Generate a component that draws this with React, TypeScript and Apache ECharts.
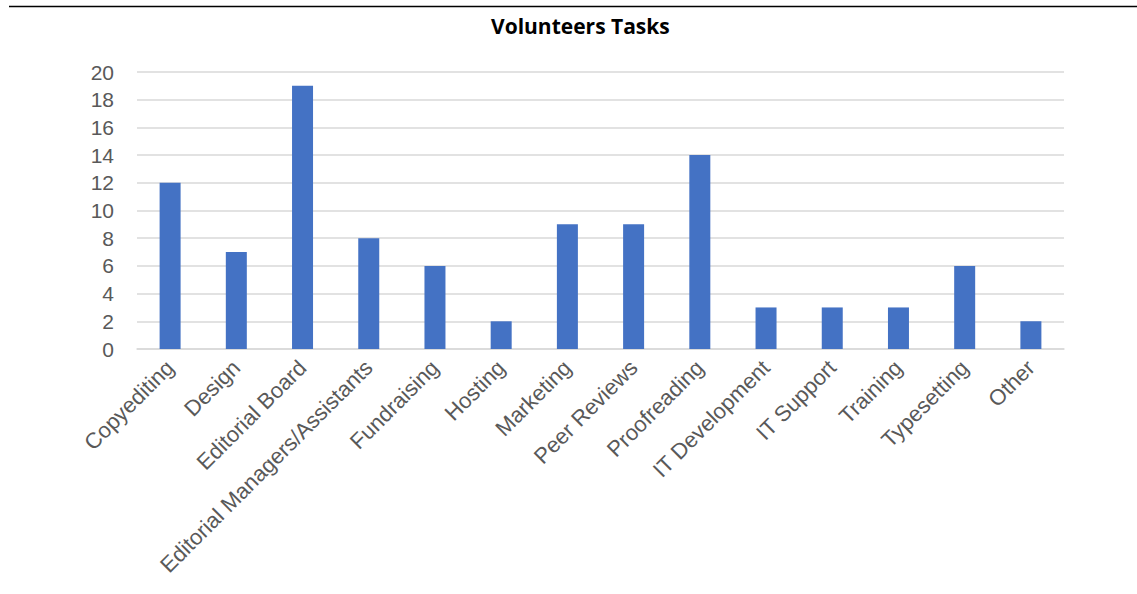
import React, { useEffect, useRef } from "react";
import * as echarts from "echarts";

const categories = [
  "Copyediting",
  "Design",
  "Editorial Board",
  "Editorial Managers/Assistants",
  "Fundraising",
  "Hosting",
  "Marketing",
  "Peer Reviews",
  "Proofreading",
  "IT Development",
  "IT Support",
  "Training",
  "Typesetting",
  "Other",
];
const counts = [12, 7, 19, 8, 6, 2, 9, 9, 14, 3, 3, 3, 6, 2];
const titleText = "Volunteers Tasks";

export default function App() {
  const ref = useRef<HTMLDivElement>(null);
  useEffect(() => {
    document.body.style.margin = "0";
    const chart = echarts.init(ref.current!, null, { renderer: "svg" });
    chart.setOption({
      animation: false,
      backgroundColor: "#ffffff",
      title: {
        text: titleText,
        left: 486,
        top: 10,
        textStyle: {
          fontFamily: "Open Sans",
          fontWeight: "bold",
          fontSize: 21,
          color: "#000000",
        },
      },
      graphic: [
        {
          type: "line",
          shape: { x1: 9, y1: 6.5, x2: 1137, y2: 6.5 },
          style: { stroke: "#000000", lineWidth: 1.5 },
        },
      ],
      grid: { left: 137, right: 73, top: 72, bottom: 245 },
      xAxis: {
        type: "category",
        data: categories,
        axisLine: { lineStyle: { color: "#d9d9d9", width: 1.5 } },
        axisTick: { show: false },
        axisLabel: {
          rotate: 45,
          interval: 0,
          margin: 15,
          fontFamily: "Liberation Sans",
          fontSize: 22,
          color: "#595959",
        },
      },
      yAxis: {
        type: "value",
        min: 0,
        max: 20,
        interval: 2,
        axisLine: { show: false },
        axisTick: { show: false },
        splitLine: { lineStyle: { color: "#d9d9d9", width: 1.5 } },
        axisLabel: {
          margin: 23,
          fontFamily: "Liberation Sans",
          fontSize: 21,
          color: "#595959",
        },
      },
      series: [
        {
          type: "bar",
          data: counts,
          barWidth: 21,
          itemStyle: { color: "#4472c4" },
        },
      ],
    });
    return () => chart.dispose();
  }, []);
  return <div ref={ref} style={{ width: 1137, height: 594 }} />;
}
